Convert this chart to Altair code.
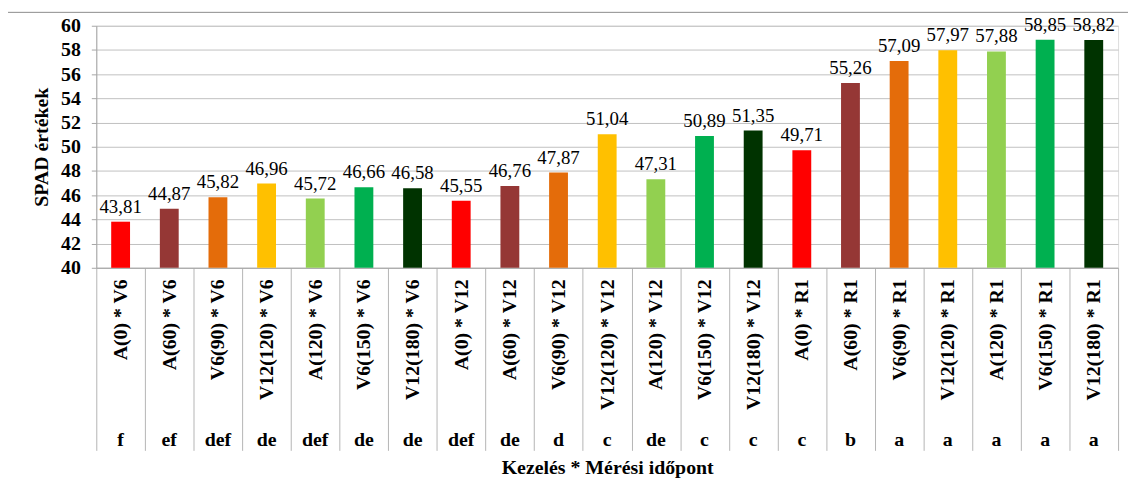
import altair as alt
import pandas as pd

categories = [
    "A(0) * V6", "A(60) * V6", "V6(90) * V6", "V12(120) * V6", "A(120) * V6", "V6(150) * V6", "V12(180) * V6",
    "A(0) * V12", "A(60) * V12", "V6(90) * V12", "V12(120) * V12", "A(120) * V12", "V6(150) * V12", "V12(180) * V12",
    "A(0) * R1", "A(60) * R1", "V6(90) * R1", "V12(120) * R1", "A(120) * R1", "V6(150) * R1", "V12(180) * R1",
]
values = [43.81, 44.87, 45.82, 46.96, 45.72, 46.66, 46.58,
          45.55, 46.76, 47.87, 51.04, 47.31, 50.89, 51.35,
          49.71, 55.26, 57.09, 57.97, 57.88, 58.85, 58.82]
letters = ["f", "ef", "def", "de", "def", "de", "de",
           "def", "de", "d", "c", "de", "c", "c",
           "c", "b", "a", "a", "a", "a", "a"]
y_ticks = [40, 42, 44, 46, 48, 50, 52, 54, 56, 58, 60]
treatments = ["A(0)", "A(60)", "V6(90)", "V12(120)", "A(120)", "V6(150)", "V12(180)"]
treatment_colors = ["#FF0000", "#953735", "#E46C0A", "#FFC000", "#92D050", "#00B050", "#003300"]

df = pd.DataFrame({
    "cat": categories,
    "val": values,
    "letter": letters,
    "treat": [c.split(" * ")[0] for c in categories],
})
df["label"] = df["val"].map(lambda v: f"{v:.2f}".replace(".", ","))

W, H = 1030, 244
FONT = "Liberation Serif"
TICK = 184

xscale = alt.Scale(paddingInner=0, paddingOuter=0)
xaxis = alt.Axis(labelAngle=-90, labelFont=FONT, labelFontWeight="bold", labelFontSize=20,
                 labelColor="black", labelPadding=11 - TICK, ticks=True, tickBand="extent",
                 tickSize=TICK, tickColor="#b4b4b4", tickWidth=1, labelOverlap=False,
                 domainColor="#a6a6a6", titleFont=FONT, titleFontWeight="bold",
                 titleFontSize=20, titleColor="black", titleY=207, titleBaseline="alphabetic")
xenc = alt.X("cat:N", sort=categories, title="Kezelés * Mérési időpont", scale=xscale, axis=xaxis)

yscale = alt.Scale(domain=[40, 60], zero=False, nice=False)
yaxis = alt.Axis(values=y_ticks, tickSize=5, tickColor="#a6a6a6",
                 domainColor="#a6a6a6", gridColor="#c0c0c0", labelFont=FONT,
                 labelFontWeight="bold", labelFontSize=20, labelColor="black",
                 labelPadding=11, labelOverlap=False, titleFont=FONT, titleFontWeight="bold",
                 titleFontSize=20, titleColor="black", titlePadding=9)
yenc = alt.Y("val:Q", scale=yscale, title="SPAD értékek", axis=yaxis)

bars = alt.Chart(df).mark_bar(size=19).encode(
    x=xenc,
    y=yenc,
    y2=alt.datum(40),
    color=alt.Color("treat:N", scale=alt.Scale(domain=treatments, range=treatment_colors), legend=None),
)

vals = alt.Chart(df).mark_text(font=FONT, fontSize=19, baseline="alphabetic", dy=-9, color="black").encode(
    x=xenc,
    y=yenc,
    text="label:N",
)

lets = alt.Chart(df).mark_text(font=FONT, fontSize=20, fontWeight="bold", baseline="alphabetic",
                               color="black").encode(
    x=xenc,
    y=alt.value(424),
    text="letter:N",
)

frame = alt.Chart(pd.DataFrame({"a": [0]})).mark_rect(fill="transparent", stroke="#8c8c8c", strokeWidth=1).encode(
    x=alt.value(-89.5), x2=alt.value(1045), y=alt.value(-13.5), y2=alt.value(470),
)

chart = alt.layer(frame, bars, vals, lets).properties(
    width=W, height=H,
    autosize=alt.AutoSizeParams(type="none"),
    padding={"left": 89, "top": 16, "right": 10, "bottom": 210},
).configure_view(stroke=None).configure(background="white")

chart.save("out.html", embed_options={"renderer": "svg", "actions": False})
